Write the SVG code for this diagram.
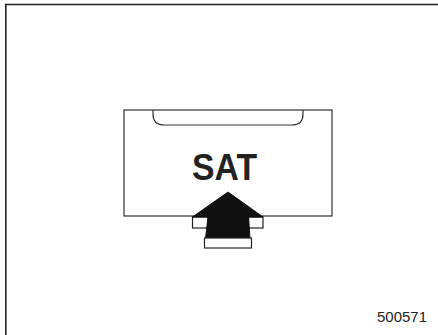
<svg xmlns="http://www.w3.org/2000/svg" width="438" height="335" viewBox="0 0 438 335">
<style>
.frame{stroke:#222;stroke-width:1.6;fill:none}
.ln{stroke:#333;stroke-width:1.2;fill:none}
.wb{fill:#fff;stroke:#222;stroke-width:1.2}
.blk{fill:#111;stroke:#111;stroke-width:1}
.t{font-family:"Liberation Sans",Arial,sans-serif;fill:#222}
</style>
<rect width="438" height="335" fill="#fff"/>
<g id="frame">
<path class="frame" d="M438,4.5 H5.8 V335"/>
</g>
<g id="display">
<rect x="124" y="110" width="208" height="106" fill="#fff" stroke="#333" stroke-width="1.2"/>
<path class="ln" d="M153,110 V114 Q153,125 164,125 H292 Q303,125 303,114 V110"/>
<text class="t" x="224.5" y="180" font-size="36" font-weight="bold" text-anchor="middle" textLength="65" lengthAdjust="spacingAndGlyphs">SAT</text>
</g>
<g id="arrow">
<rect class="wb" x="192.5" y="217" width="15.5" height="11"/>
<rect class="wb" x="248.5" y="217" width="14.5" height="11"/>
<path class="blk" d="M228,192 L192.5,217 H208 L205.5,238.5 H250 L248.5,217 H263 Z"/>
<rect class="wb" x="204.5" y="238" width="47" height="10"/>
</g>
<g id="label">
<text class="t" x="377" y="322" font-size="15">500571</text>
</g>
</svg>
